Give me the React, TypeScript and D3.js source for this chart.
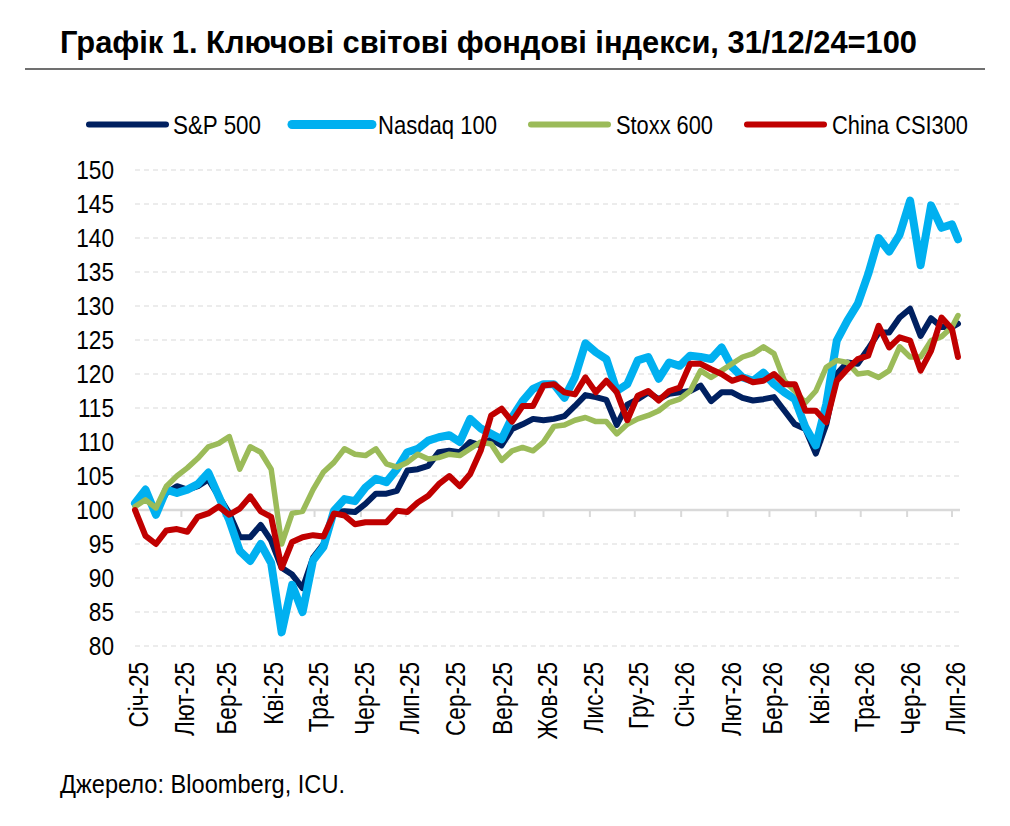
import React from 'react';
import * as d3 from 'd3';

// weekly closes, 31/12/24 = 100
const spx = [
  100.8, 102, 100, 102.5, 103.5, 103, 103.5, 104.5, 102, 99.5,
  96, 96, 97.8, 95.5, 91.5, 90.5, 88.5, 93, 95, 99.7,
  99.8, 99.7, 100.9, 102.4, 102.4, 102.8, 105.8, 106, 106.5, 108.5,
  108.7, 108.5, 110, 109.5, 110.4, 109.5, 111.9, 112.6, 113.4, 113.2,
  113.4, 113.8, 115.3, 116.9, 116.6, 116.2, 112.5, 115.5, 116.3, 117.3,
  116.3, 117.1, 117.3, 117.5, 118.3, 116, 117.3, 117.3, 116.5, 116.1,
  116.3, 116.6, 114.6, 112.6, 111.9, 108.3, 112.6, 120, 121.7, 121.5,
  123.7, 126.1, 126.1, 128.3, 129.6, 125.6, 128.2, 126.9, 126.9, 127.4
];

const ndx = [
  101, 103, 99.3, 103, 102.5, 103, 103.8, 105.5, 102, 98.5,
  94, 92.5, 95, 92.2, 82, 89, 85, 92.6, 94.6, 99.9,
  101.6, 101.3, 103.3, 104.6, 104.1, 106, 108.5, 109, 110.2, 110.7,
  111, 110, 113.4, 112, 111.2, 110.4, 113.6, 116, 117.8, 118.5,
  118.5, 116.5, 119.5, 124.5, 123.2, 122.2, 117.5, 118.5, 122, 122.5,
  119.3, 121.7, 121.2, 122.7, 122.5, 122.2, 123.9, 121, 119.5, 119,
  120.2, 118.5, 117.3, 116.3, 112.2, 109.5, 115.6, 124.9, 127.8, 130.3,
  134.7, 140, 138, 140.5, 145.5, 136, 144.8, 141.5, 142, 139.8
];

const stoxx = [
  100.5, 101.5, 100.3, 103.5, 105, 106.2, 107.6, 109.3, 109.8, 110.8,
  106, 109.3, 108.5, 106, 95, 99.5, 99.8, 103, 105.6, 107,
  109, 108.2, 108, 109, 106.8, 106.3, 107, 108.2, 107.5, 107.7,
  108.2, 108, 109, 110, 109.7, 107.3, 108.7, 109.2, 108.7, 110,
  112.3, 112.5, 113.2, 113.6, 113, 113, 111.2, 112.6, 113.4, 113.9,
  114.6, 115.8, 116.3, 117.5, 120.5, 119.5, 120.5, 121.5, 122.5, 123,
  124, 123, 119, 117.5, 115.8, 117.5, 121, 122, 121.7, 120,
  120.2, 119.5, 120.5, 124, 122.5, 122.5, 124.9, 125.5, 126.9, 128.6
];

const csi = [
  100, 96.2, 95, 97, 97.2, 96.8, 99, 99.5, 100.5, 99.3,
  100.2, 102, 99.8, 99, 91.5, 95.3, 96, 96.3, 96.1, 99.5,
  99.2, 97.9, 98.2, 98.2, 98.2, 99.9, 99.7, 101.1, 102.1, 103.8,
  105, 103.5, 105.3, 108.7, 113.9, 114.9, 113, 115.3, 115.3, 118.3,
  118.5, 117.3, 117, 119.5, 117.3, 119, 117.3, 113.2, 116.8, 117.5,
  116.1, 117.5, 118, 121.5, 121.5, 120.7, 120, 119, 119.5, 118.8,
  119, 120, 118.5, 118.5, 114.6, 114.6, 112.9, 119, 120.7, 122.2,
  122.7, 127.1, 123.9, 125.4, 124.9, 120.5, 123.4, 128.3, 126.6, 122.5
];

const seriesNames = ['S&P 500', 'Nasdaq 100', 'Stoxx 600', 'China CSI300'];
const monthLabels = [
  'Січ-25', 'Лют-25', 'Бер-25', 'Кві-25', 'Тра-25', 'Чер-25', 'Лип-25', 'Сер-25', 'Вер-25', 'Жов-25',
  'Лис-25', 'Гру-25', 'Січ-26', 'Лют-26', 'Бер-26', 'Кві-26', 'Тра-26', 'Чер-26', 'Лип-26'
];
const yTicks = [80, 85, 90, 95, 100, 105, 110, 115, 120, 125, 130, 135, 140, 145, 150];

const start = new Date(2025, 0, 1);
const dates = d3.range(79).map(i => d3.timeDay.offset(start, 7 * i)).concat([new Date(2026, 6, 5)]);
const months = d3.timeMonth.range(start, new Date(2026, 6, 2));

const FONT = '"Liberation Sans", Arial, sans-serif';

const lines = [
  { name: seriesNames[0], values: spx, color: '#002060', width: 6 },
  { name: seriesNames[1], values: ndx, color: '#00b0f0', width: 8 },
  { name: seriesNames[2], values: stoxx, color: '#9bbb59', width: 5.5 },
  { name: seriesNames[3], values: csi, color: '#c00000', width: 6 }
];

// legend swatch / label placement
const legendPos = [
  { x0: 89, x1: 166, tx: 173, tw: 88, sw: 6 },
  { x0: 292, x1: 372, tx: 378, tw: 119, sw: 9 },
  { x0: 531, x1: 608, tx: 616, tw: 97, sw: 6 },
  { x0: 747, x1: 824, tx: 832, tw: 136, sw: 6 }
];

export default function App() {
  const x = d3.scaleTime().domain([start, new Date(2026, 6, 1)]).range([135, 952]);
  const y = d3.scaleLinear().domain([80, 150]).range([646, 170]);
  const gridRight = 960;

  const lineGen = d3.line<number>()
    .x((d, i) => x(dates[i]))
    .y(d => y(d))
    .curve(d3.curveLinear);

  return (
    <svg width={1010} height={826} style={{ position: 'absolute', left: 0, top: 0, background: '#fff' }}
      fontFamily={FONT}>
      <text x={60} y={53} fontSize={31} fontWeight="bold" fill="#000"
        textLength={857} lengthAdjust="spacingAndGlyphs">
        Графік 1. Ключові світові фондові індекси, 31/12/24=100
      </text>
      <line x1={25} x2={985} y1={69} y2={69} stroke="#404040" strokeWidth={1.5} />

      {lines.map((s, i) => (
        <g key={s.name}>
          <line x1={legendPos[i].x0} x2={legendPos[i].x1} y1={124.5} y2={124.5}
            stroke={s.color} strokeWidth={legendPos[i].sw} strokeLinecap="round" />
          <text x={legendPos[i].tx} y={133.5} fontSize={26} fill="#000"
            textLength={legendPos[i].tw} lengthAdjust="spacingAndGlyphs">{s.name}</text>
        </g>
      ))}

      {yTicks.filter(t => t !== 100).map(t => (
        <line key={'g' + t} x1={135} x2={gridRight} y1={y(t)} y2={y(t)}
          stroke="#d9d9d9" strokeWidth={1.2} strokeDasharray="5,4" />
      ))}
      {yTicks.map(t => (
        <text key={'y' + t} transform={`translate(114,${y(t) + 9}) scale(0.87,1)`}
          textAnchor="end" fontSize={26} fill="#000">{t}</text>
      ))}

      <line x1={135} x2={gridRight} y1={y(100)} y2={y(100)} stroke="#d9d9d9" strokeWidth={2.5} />
      {months.map(m => (
        <line key={'t' + m.getTime()} x1={x(m)} x2={x(m)} y1={y(100)} y2={y(100) + 7}
          stroke="#d9d9d9" strokeWidth={2} />
      ))}
      {months.map((m, i) => (
        <text key={'m' + m.getTime()}
          transform={`translate(${x(m) + 13},662) rotate(-90) scale(0.82,1)`}
          textAnchor="end" fontSize={27.5} fill="#000">{monthLabels[i]}</text>
      ))}

      {lines.map(s => (
        <path key={'p' + s.name} d={lineGen(s.values) || ''} fill="none" stroke={s.color}
          strokeWidth={s.width} strokeLinejoin="round" strokeLinecap="round" />
      ))}

      <text x={60} y={793} fontSize={26} fill="#000" textLength={285} lengthAdjust="spacingAndGlyphs">
        Джерело: Bloomberg, ICU.
      </text>
    </svg>
  );
}
